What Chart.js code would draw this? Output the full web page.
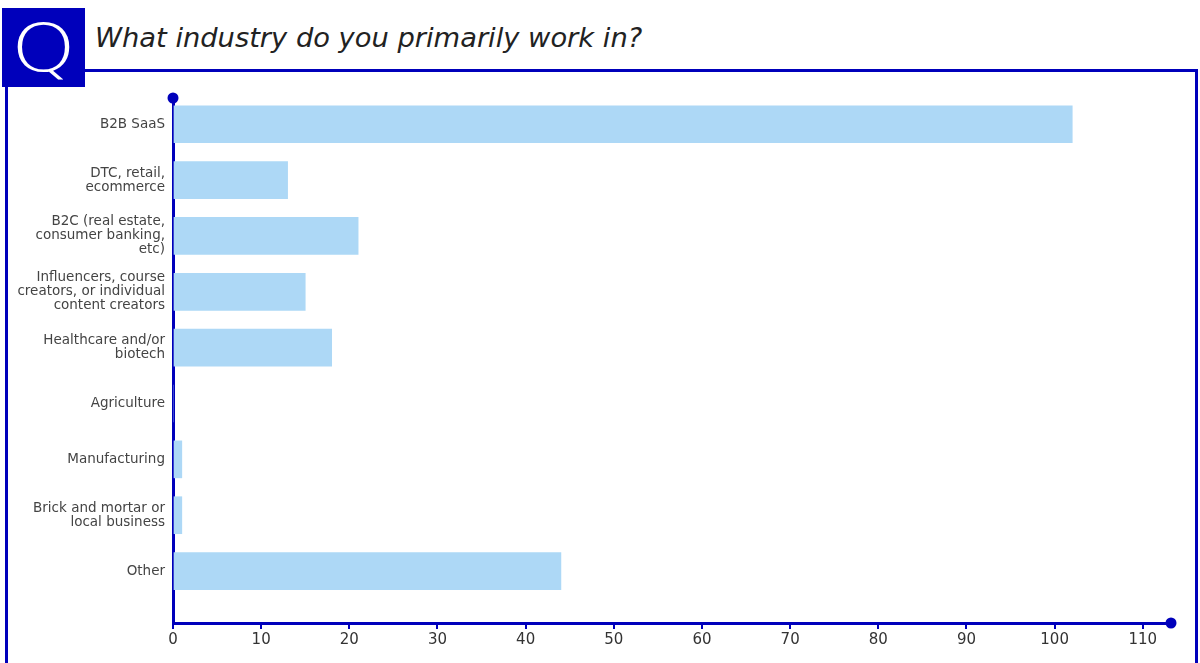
<!DOCTYPE html>
<html>
<head>
<meta charset="utf-8">
<script src="https://cdn.jsdelivr.net/npm/chart.js@4"></script>
<style>
  html, body { margin: 0; padding: 0; background: #fff; width: 1200px; height: 663px; overflow: hidden; }
  #qbox { position: absolute; left: 2px; top: 8px; width: 83px; height: 79px; background: #0000bb; overflow: hidden; }
  #qglyph { position: absolute; left: 0; top: 1px; width: 83px; height: 79px; color: #fff; text-align: center;
          font-family: "DejaVu Sans", sans-serif; font-weight: 200; font-size: 66px; line-height: 79px;
          transform: scaleX(1.25); transform-origin: 50% 50%; }
  #title { position: absolute; left: 95px; top: 22px; font-family: "DejaVu Sans", sans-serif; font-style: italic;
           font-size: 27.3px; color: #222; white-space: nowrap; }
  #frameTop { position: absolute; left: 85px; top: 69px; width: 1113px; height: 3px; background: #0000bb; }
  #frameLeft { position: absolute; left: 5px; top: 87px; width: 3px; height: 600px; background: #0000bb; }
  #frameRight { position: absolute; left: 1195px; top: 69px; width: 3px; height: 600px; background: #0000bb; }
  #wrap { position: absolute; left: 0; top: 0; width: 1200px; height: 663px; }
</style>
</head>
<body>
<div id="frameTop"></div>
<div id="frameLeft"></div>
<div id="frameRight"></div>
<div id="qbox"><div id="qglyph">Q</div></div>
<div id="title">What industry do you primarily work in?</div>
<div id="wrap"><canvas id="c"></canvas></div>
<script>
const categories = [
  ["B2B SaaS"],
  ["DTC, retail,", "ecommerce"],
  ["B2C (real estate,", "consumer banking,", "etc)"],
  ["Influencers, course", "creators, or individual", "content creators"],
  ["Healthcare and/or", "biotech"],
  ["Agriculture"],
  ["Manufacturing"],
  ["Brick and mortar or", "local business"],
  ["Other"]
];
const counts = [102, 13, 21, 15, 18, 0, 1, 1, 44];
const xTickStep = 10;

const BLUE = '#0000bb';

const dotPlugin = {
  id: 'axisDots',
  afterDraw(chart) {
    const ctx = chart.ctx, a = chart.chartArea;
    ctx.save();
    ctx.fillStyle = BLUE;
    ctx.beginPath(); ctx.arc(a.left, a.top, 5.5, 0, Math.PI * 2); ctx.fill();
    ctx.beginPath(); ctx.arc(a.right, a.bottom, 5.5, 0, Math.PI * 2); ctx.fill();
    ctx.restore();
  }
};

new Chart(document.getElementById('c'), {
  type: 'bar',
  data: {
    datasets: [{
      data: counts.map((v, i) => ({ x: v, y: i })),
      backgroundColor: 'rgb(173,216,246)',
      borderWidth: 0,
      barThickness: 37
    }]
  },
  options: {
    indexAxis: 'y',
    responsive: true,
    maintainAspectRatio: false,
    animation: false,
    layout: { padding: { left: 0, top: 98, right: 29, bottom: 0 } },
    plugins: { legend: { display: false }, tooltip: { enabled: false } },
    scales: {
      y: {
        type: 'linear',
        reverse: true,
        offset: false,
        min: -0.47,
        max: 8.93,
        afterBuildTicks(scale) { scale.ticks = categories.map((_, i) => ({ value: i })); },
        afterFit(scale) { scale.width = 173; },
        ticks: {
          autoSkip: false,
          padding: 8,
          color: '#444',
          font: { family: 'DejaVu Sans', size: 13.5, lineHeight: 1.04 },
          callback: (v) => categories[v]
        },
        grid: { display: true, drawOnChartArea: false, drawTicks: false, color: BLUE },
        border: { display: true, color: BLUE, width: 3 }
      },
      x: {
        type: 'linear',
        min: 0,
        max: 113.2,
        offset: false,
        afterFit(scale) { scale.height = 40; },
        ticks: {
          stepSize: xTickStep,
          includeBounds: false,
          padding: 2,
          color: '#333',
          font: { family: 'DejaVu Sans', size: 15 }
        },
        grid: { display: true, drawOnChartArea: false, drawTicks: true, tickLength: 6, color: BLUE, lineWidth: 2 },
        border: { display: true, color: BLUE, width: 3 }
      }
    }
  },
  plugins: [dotPlugin]
});
</script>
</body>
</html>
